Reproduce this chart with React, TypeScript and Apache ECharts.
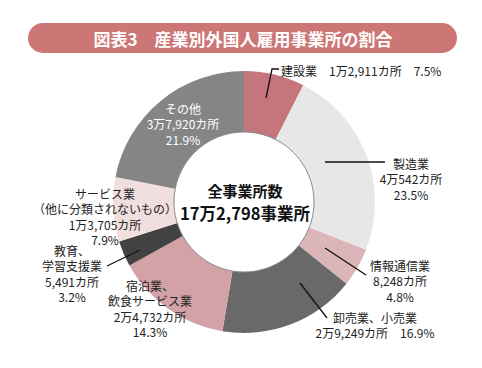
import React, { useEffect, useRef } from "react";
import * as echarts from "echarts";

const titleText = "図表3　産業別外国人雇用事業所の割合";
const centerTitle = "全事業所数";
const totalCount = 172798;
const categories = [
  "建設業",
  "製造業",
  "情報通信業",
  "卸売業、小売業",
  "宿泊業、\n飲食サービス業",
  "教育、\n学習支援業",
  "サービス業\n（他に分類されないもの）",
  "その他",
];
const counts = [12911, 40542, 8248, 29249, 24732, 5491, 13705, 37920];
const percents = ["7.5%", "23.5%", "4.8%", "16.9%", "14.3%", "3.2%", "7.9%", "21.9%"];

const colors = ["#c4767c", "#e7e7e7", "#dcb5b8", "#696969", "#d2a2a7", "#424242", "#f1dede", "#858585"];

// label layout (style/position only)
const labelLayout = [
  { x: 281, y: 70, align: "left", joinAll: true, fill: "#222", line: [[266, 98], [272, 69], [279, 69]] },
  { x: 411, y: 163, align: "center", fill: "#222", line: [[325, 162], [385, 162]] },
  { x: 400, y: 265, align: "center", fill: "#222", line: [[325, 248], [366, 275]] },
  { x: 375, y: 317, align: "center", joinLast: true, fill: "#222", line: [[300, 283], [327, 318]] },
  { x: 150, y: 285, align: "center", fill: "#222", line: null },
  { x: 72, y: 250, align: "center", fill: "#222", line: [[140, 250], [107, 266]] },
  { x: 105, y: 193, align: "center", fill: "#222", line: null },
  { x: 183, y: 108, align: "center", fill: "#fff", line: null },
];

function fmtCount(n: number): string {
  const man = Math.floor(n / 10000);
  const rest = n % 10000;
  const restStr = rest >= 1000 ? Math.floor(rest / 1000) + "," + String(rest % 1000).padStart(3, "0") : String(rest);
  return man > 0 ? man + "万" + restStr : restStr;
}

const FONT = '"Noto Sans CJK JP", "Noto Sans", sans-serif';

export default function App() {
  const ref = useRef<HTMLDivElement>(null);
  useEffect(() => {
    if (!ref.current) return;
    const chart = echarts.init(ref.current, null, { renderer: "svg" });
    const LH = 15.5;
    const graphics: any[] = [];
    graphics.push({
      type: "rect",
      shape: { x: 28, y: 23, width: 429, height: 30, r: 15 },
      style: { fill: "#cd7676" },
    });
    graphics.push({
      type: "text",
      style: {
        text: titleText,
        x: 243,
        y: 38,
        textAlign: "center",
        textVerticalAlign: "middle",
        fill: "#fff",
        font: `bold 17px ${FONT}`,
      },
    });
    graphics.push({
      type: "circle",
      shape: { cx: 244, cy: 202, r: 70 },
      style: { fill: "none", stroke: "#8a8a8a", lineWidth: 1 },
      z: 10,
    });
    graphics.push({
      type: "text",
      style: {
        text: centerTitle,
        x: 245,
        y: 190,
        textAlign: "center",
        textVerticalAlign: "middle",
        fill: "#111",
        font: `bold 15px ${FONT}`,
      },
      z: 10,
    });
    graphics.push({
      type: "text",
      style: {
        text: fmtCount(totalCount) + "事業所",
        x: 245,
        y: 213,
        textAlign: "center",
        textVerticalAlign: "middle",
        fill: "#111",
        font: `bold 16.5px ${FONT}`,
      },
      z: 10,
    });
    categories.forEach((name, i) => {
      const L: any = labelLayout[i];
      let text: string;
      if (L.joinAll) text = name + "　" + fmtCount(counts[i]) + "カ所　" + percents[i];
      else if (L.joinLast) text = name + "\n" + fmtCount(counts[i]) + "カ所　" + percents[i];
      else text = name + "\n" + fmtCount(counts[i]) + "カ所\n" + percents[i];
      graphics.push({
        type: "text",
        style: {
          text,
          x: L.x,
          y: L.y - LH / 2,
          textAlign: L.align,
          textVerticalAlign: "top",
          lineHeight: LH,
          fill: L.fill,
          font: `12px ${FONT}`,
        },
        z: 10,
      });
      if (L.line) {
        graphics.push({
          type: "polyline",
          shape: { points: L.line },
          style: { stroke: "#111", lineWidth: 1.3, fill: "none" },
          z: 10,
        });
      }
    });
    chart.setOption({
      animation: false,
      backgroundColor: "#fff",
      series: [
        {
          type: "pie",
          center: [244, 202],
          radius: [70, 131],
          startAngle: 90,
          clockwise: true,
          label: { show: false },
          labelLine: { show: false },
          emphasis: { disabled: true },
          itemStyle: { borderWidth: 0 },
          data: categories.map((c, i) => ({
            name: c,
            value: counts[i],
            itemStyle: { color: colors[i] },
          })),
        },
      ],
      graphic: graphics,
    });
    return () => chart.dispose();
  }, []);
  return <div ref={ref} style={{ width: 482, height: 368, position: "absolute", left: 0, top: 0 }} />;
}
